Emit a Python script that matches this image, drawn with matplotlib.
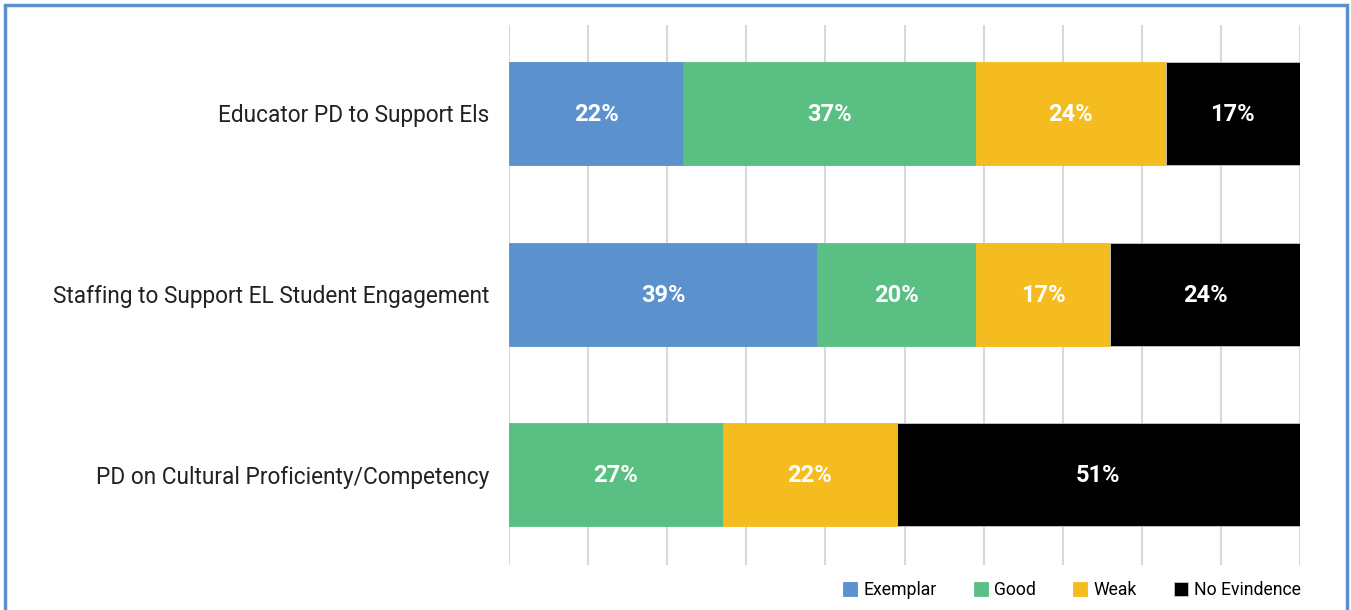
import numpy as np
import matplotlib.pyplot as plt
from matplotlib.patches import Rectangle

plt.rcParams['font.family'] = ['Roboto', 'DejaVu Sans']

categories = ["Educator PD to Support Els",
              "Staffing to Support EL Student Engagement",
              "PD on Cultural Proficienty/Competency"]
series_names = ["Exemplar", "Good", "Weak", "No Evindence"]
exemplar = [22, 39, 0]
good = [37, 20, 27]
weak = [24, 17, 22]
no_evidence = [17, 24, 51]
colors = ["#5B91CD", "#59BF83", "#F4BC1F", "#000000"]

fig = plt.figure(figsize=(13.51, 6.10), dpi=100)
ax = fig.add_axes([509 / 1351, 45 / 610, 791 / 1351, 540 / 610])

y = np.arange(len(categories))
left = np.zeros(len(categories))
for name, vals, col in zip(series_names, [exemplar, good, weak, no_evidence], colors):
    vals = np.array(vals, dtype=float)
    ax.barh(y, vals, left=left, height=0.57, color=col, label=name,
            edgecolor='#c8c8c8' if col == "#000000" else col, linewidth=0.6, zorder=2)
    for yi, v, l in zip(y, vals, left):
        if v > 0:
            ax.text(l + v / 2, yi + 0.005, f"{v:.0f}%", ha='center', va='center',
                    color='white', fontsize=17, fontweight='bold', zorder=3)
    left += vals

ax.set_xlim(0, 100)
ax.set_ylim(2.5, -0.49)
ax.set_xticks(np.arange(0, 101, 10))
ax.xaxis.grid(True, color='#d9d9d9', linewidth=1.5, zorder=0)
ax.tick_params(axis='x', length=0, labelbottom=False)
ax.tick_params(axis='y', length=0, pad=14)
ax.set_yticks(y)
ax.set_yticklabels(categories, fontsize=16.3, color='#222222')
for s in ax.spines.values():
    s.set_visible(False)

ax.legend(loc='lower right', bbox_to_anchor=(1.021, -0.093), ncol=4, frameon=False,
          fontsize=12.7, handlelength=0.8, handleheight=0.8, handletextpad=0.35,
          columnspacing=2.1)

# light blue frame around the figure
fig.patches.append(Rectangle((5 / 1351, -0.02), 1342 / 1351, 1 - 5 / 610 + 0.02,
                             transform=fig.transFigure, fill=False,
                             edgecolor='#5B8FD0', linewidth=2.5))

fig.savefig("out.png", dpi=100)
